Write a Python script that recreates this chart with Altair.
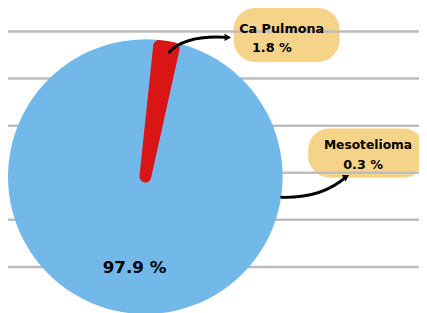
import math
import altair as alt
import pandas as pd

# ---- data ----
categories = ["Ca Pulmona", "Mesotelioma", "Otros"]
values = [1.8, 0.3, 97.9]
pct_labels = ["1.8 %", "0.3 %", "97.9 %"]
grid_index = [0, 1, 2, 3, 4, 5]

pie_df = pd.DataFrame({"categoria": categories, "valor": values,
                       "orden": list(range(len(categories)))})
grid_df = pd.DataFrame({"k": grid_index})
one = pd.DataFrame({"a": [0]})

W, H = 419, 305
CX, CY, R = 140, 169, 140
FONT = "DejaVu Sans"
start = 0.105

blue = "#72B9EA"
red = "#D91515"
tan = "#F5D389"

grid = alt.Chart(grid_df).mark_rule(color="#BDBDBD", strokeWidth=2.5).encode(
    y=alt.Y("k:Q", scale=alt.Scale(domain=[0, 5], range=[21, 261]), axis=None),
    x=alt.value(0), x2=alt.value(W),
)

blob1 = alt.Chart(one).mark_rect(color=tan, cornerRadius=22).encode(
    x=alt.value(230), x2=alt.value(338), y=alt.value(-3), y2=alt.value(52))
blob2 = alt.Chart(one).mark_rect(color=tan, cornerRadius=22).encode(
    x=alt.value(306), x2=alt.value(425), y=alt.value(120), y2=alt.value(170))

theta_scale = alt.Scale(domain=[0, sum(values)],
                        range=[start, start + 2 * math.pi])
color_scale = alt.Scale(domain=categories, range=[red, blue, blue])

base = alt.Chart(pie_df).transform_window(
    t1="sum(valor)", sort=[alt.SortField("orden")],
    frame=[None, 0]
).transform_calculate(t0="datum.t1 - datum.valor")

is_red = "datum.categoria == 'Ca Pulmona'"

pie_rest = base.transform_filter("!(" + is_red + ")").mark_arc(
    outerRadius=R).encode(
    theta=alt.Theta("t0:Q", scale=theta_scale),
    theta2="t1:Q",
    color=alt.Color("categoria:N", scale=color_scale, legend=None),
    x=alt.value(CX), y=alt.value(CY),
)
pie_red = base.transform_filter(is_red).mark_arc(
    outerRadius=R - 6, stroke=red, strokeWidth=12, strokeJoin="round").encode(
    theta=alt.Theta("t0:Q", scale=theta_scale),
    theta2="t1:Q",
    color=alt.Color("categoria:N", scale=color_scale, legend=None),
    x=alt.value(CX), y=alt.value(CY),
)

# arrows (annotation curves)
arrow1 = alt.Chart(one).mark_point(
    shape="M -1 0.25 Q -0.45 -0.35 1 -0.25", filled=False, stroke="black",
    strokeWidth=3, size=3600, strokeCap="round", opacity=1).encode(
    x=alt.value(194.5), y=alt.value(34.5))
head1 = alt.Chart(one).mark_point(
    shape="triangle-right", filled=True, color="black", size=55, opacity=1).encode(
    x=alt.value(224), y=alt.value(27))
arrow2 = alt.Chart(one).mark_point(
    shape="M -1 0.32 Q 0.25 0.35 1 -0.32", filled=False, stroke="black",
    strokeWidth=3, size=4356, strokeCap="round", opacity=1).encode(
    x=alt.value(312), y=alt.value(179.5))
head2 = alt.Chart(one).mark_point(
    shape="triangle-right", filled=True, color="black", size=55, angle=330,
    opacity=1).encode(x=alt.value(345), y=alt.value(169))


def txt(s, x, y, size):
    return alt.Chart(one).mark_text(
        text=s, font=FONT, fontSize=size, fontWeight="bold", color="black",
        align="center", baseline="middle").encode(x=alt.value(x), y=alt.value(y))


texts = [
    txt(categories[0], 279, 19, 13),
    txt(pct_labels[0], 269, 38, 13),
    txt(categories[1], 367, 137, 12.5),
    txt(pct_labels[1], 362, 157, 13),
    txt(pct_labels[2], 129, 262, 17),
]

chart = alt.layer(blob1, blob2, grid, pie_rest, pie_red, arrow1, head1,
                  arrow2, head2, *texts).properties(
    width=W, height=H, padding=0, autosize=alt.AutoSizeParams(type="none"),
).configure_view(stroke=None)

chart.save("out.html", embed_options={"renderer": "svg", "actions": False})
